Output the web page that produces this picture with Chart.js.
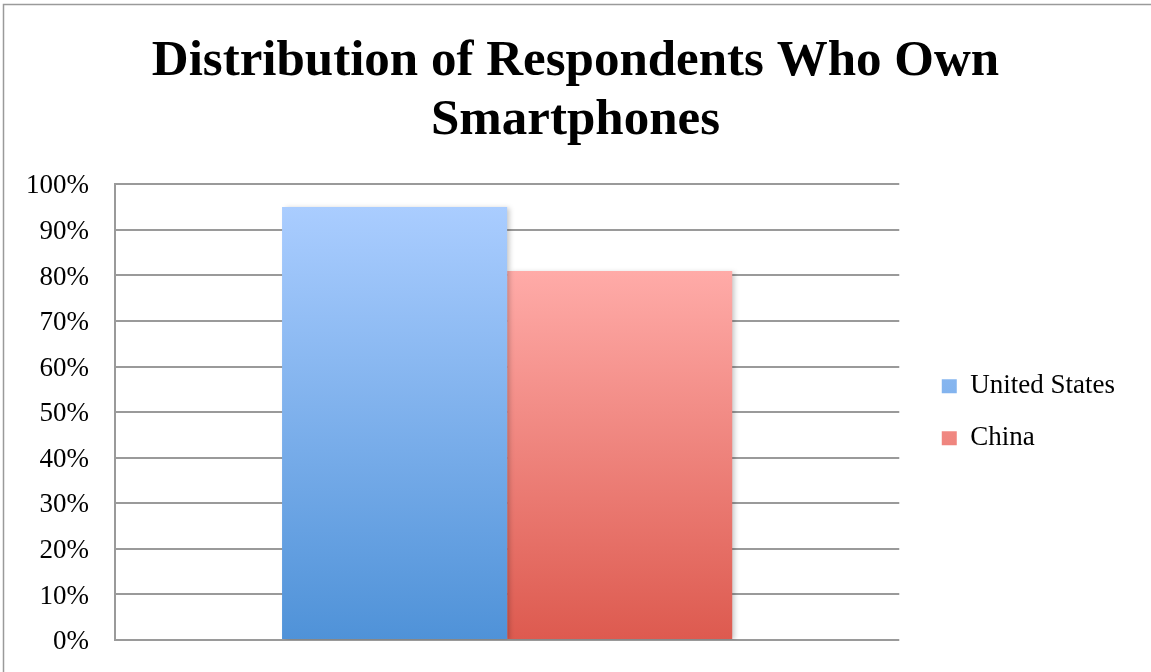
<!DOCTYPE html>
<html><head><meta charset="utf-8">
<script src="https://cdn.jsdelivr.net/npm/chart.js@4/dist/chart.umd.min.js"></script>
<style>html,body{margin:0;padding:0;background:#fff;} #wrap{width:1151px;height:672px;position:relative;}</style>
</head><body><div id="wrap"><canvas id="c" width="1151" height="672"></canvas></div>
<script>
const categories = [''];
const seriesNames = ['United States', 'China'];
const usValues = [0.95];
const chinaValues = [0.81];
const titleLines = ['Distribution of Respondents Who Own', 'Smartphones'];
const yMin = 0, yMax = 1, yStep = 0.1;

function barGradient(top, bottom, solid) {
  return (ctx) => {
    const chart = ctx.chart;
    const area = chart.chartArea;
    if (!area || !ctx.parsed || !chart.scales.y) return solid;
    const ys = chart.scales.y;
    const y0 = ys.getPixelForValue(ctx.parsed.y);
    const y1 = ys.getPixelForValue(0);
    const g = chart.ctx.createLinearGradient(0, y0, 0, y1);
    g.addColorStop(0, top);
    g.addColorStop(1, bottom);
    return g;
  };
}

const borderPlugin = {
  id: 'outerBorder',
  beforeDraw(chart) {
    const c = chart.ctx;
    c.save();
    c.fillStyle = '#fff';
    c.fillRect(0, 0, chart.width, chart.height);
    c.strokeStyle = '#9a9a9a';
    c.lineWidth = 1.5;
    c.strokeRect(3.5, 4.5, chart.width + 20, chart.height + 20);
    c.restore();
  }
};
const shadowPlugin = {
  id: 'barShadow',
  beforeDatasetsDraw(chart) {
    const c = chart.ctx;
    c.save();
    c.shadowColor = 'rgba(0,0,0,0.22)';
    c.shadowBlur = 5;
    c.shadowOffsetX = 3;
    c.shadowOffsetY = 1;
  },
  afterDatasetsDraw(chart) { chart.ctx.restore(); }
};

new Chart(document.getElementById('c'), {
  type: 'bar',
  data: {
    labels: categories,
    datasets: [
      { label: seriesNames[0], data: usValues,
        backgroundColor: barGradient('#aacdff', '#4f92d8', '#6fa6ea'),
        categoryPercentage: 0.574, barPercentage: 1.0 },
      { label: seriesNames[1], data: chinaValues,
        backgroundColor: barGradient('#ffaba8', '#dd5a4f', '#ec7c74'),
        categoryPercentage: 0.574, barPercentage: 1.0 }
    ]
  },
  options: {
    responsive: false,
    devicePixelRatio: 1,
    animation: false,
    layout: { padding: { left: 26, right: 26, top: 0, bottom: 32 } },
    plugins: {
      title: {
        display: true,
        text: titleLines,
        color: '#000',
        font: { family: 'Liberation Serif', size: 51, weight: 'bold', lineHeight: 1.16 },
        padding: { top: 32, bottom: 34 }
      },
      legend: {
        display: true,
        position: 'right',
        fullSize: false,
        maxWidth: 400,
        labels: {
          boxWidth: 15, boxHeight: 14, padding: 25, color: '#000',
          font: { family: 'Liberation Serif', size: 27 }
        }
      },
      tooltip: { enabled: false }
    },
    scales: {
      x: { display: false },
      y: {
        min: yMin, max: yMax,
        grid: { color: '#9a9a9a', lineWidth: 2, drawTicks: true, tickLength: 26, tickColor: 'rgba(0,0,0,0)' },
        border: { display: true, color: '#9a9a9a', width: 2 },
        ticks: {
          stepSize: yStep, padding: 0, labelOffset: 2, color: '#000',
          font: { family: 'Liberation Serif', size: 27 },
          callback: (v) => Math.round(v * 100) + '%'
        },
        afterFit(s) { s.width = 89; }
      },
      yR: {
        type: 'linear', position: 'right', display: true,
        grid: { display: false }, border: { display: false }, ticks: { display: false },
        afterFit(s) { s.width = 17.5; }
      }
    }
  },
  plugins: [borderPlugin, shadowPlugin]
});
</script></body></html>
